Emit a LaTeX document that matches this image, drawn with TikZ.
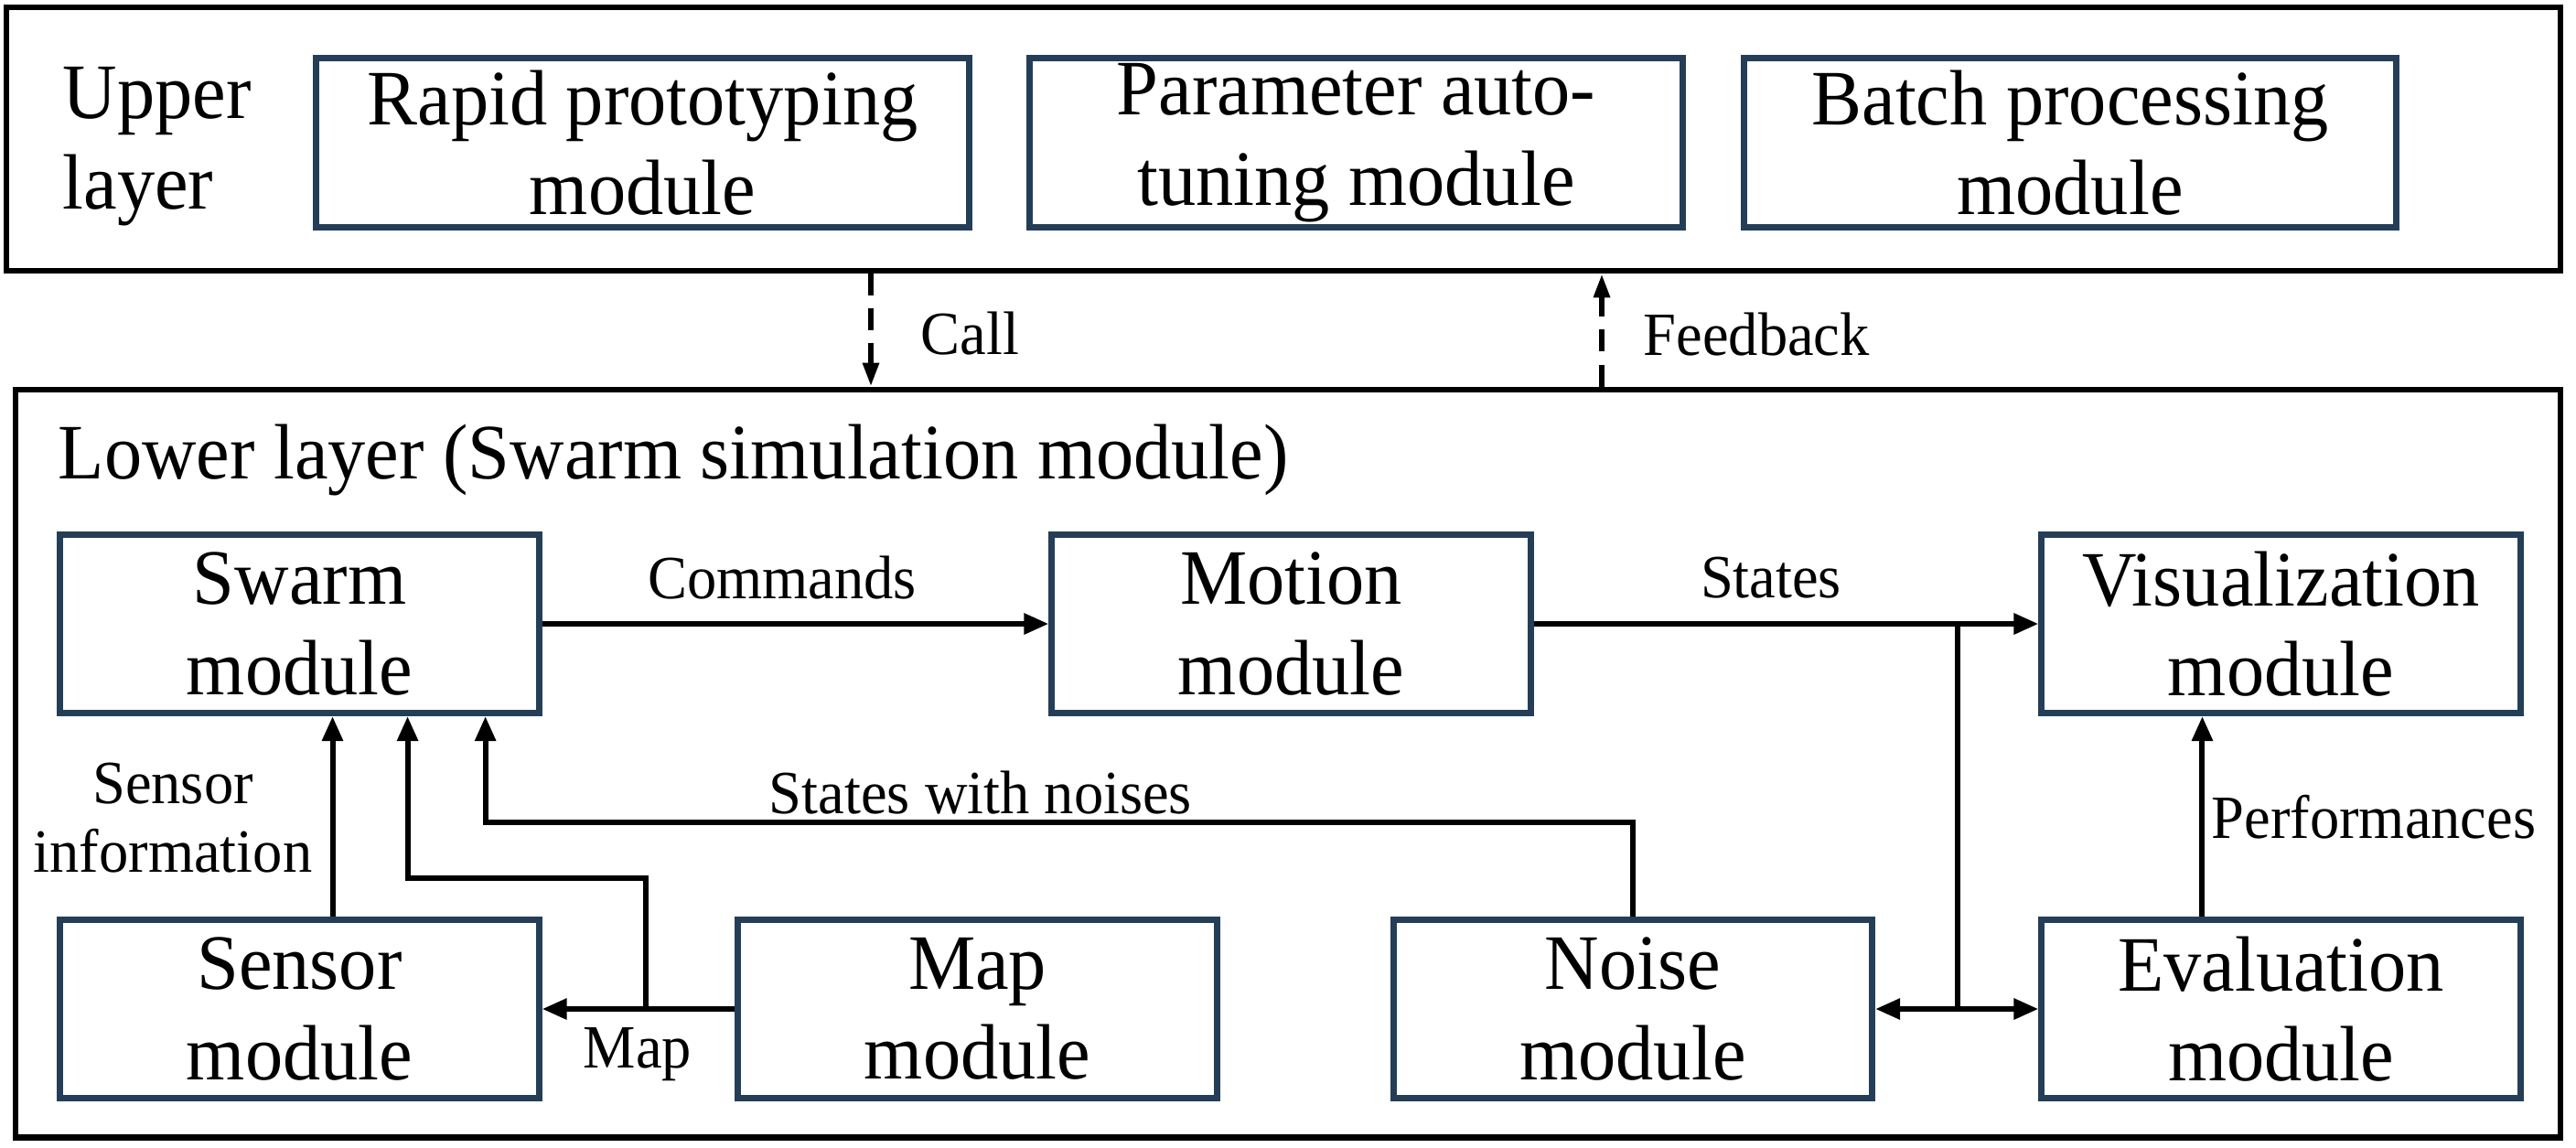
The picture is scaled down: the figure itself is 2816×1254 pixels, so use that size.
\documentclass[tikz,border=0pt]{standalone}
\usepackage{fontspec}
\setmainfont{Liberation Serif}[FakeStretch=0.96]
\usetikzlibrary{arrows.meta}
\definecolor{boxblue}{RGB}{37,62,87}

\begin{document}
\begin{tikzpicture}[x=0.01cm,y=-0.01cm,font=\fontsize{24.4}{28}\selectfont,
  layerbox/.style={draw,line width=0.065cm,inner sep=0pt},
  modbox/.style={draw=boxblue,line width=0.07cm,align=center,inner sep=0pt,minimum width=5.23cm,minimum height=1.95cm},
  upbox/.style={modbox,minimum width=7.13cm,minimum height=1.85cm},
  lbl/.style={font=\fontsize{19.1}{21.5}\selectfont,align=center,inner sep=0pt},
  wire/.style={line width=0.06cm},
  flow/.style={wire,-{Triangle[length=0.27cm,width=0.22cm]}},
  call/.style={wire,dash pattern=on 0.24cm off 0.14cm,-{Triangle[length=0.26cm,width=0.17cm]}}]
  \useasboundingbox (0,0) rectangle (2816,1254);

  \node[layerbox,minimum width=27.9cm,minimum height=2.88cm] (upper) at (1403,152) {};
  \node[layerbox,minimum width=27.8cm,minimum height=8.17cm] (lower) at (1408,834.5) {};

  \node[anchor=west,align=left,inner sep=0pt] (uptxt) at (68,160) {Upper\\layer};
  \foreach \n/\x/\t in {rapid/702.5/{Rapid prototyping\\module},tuning/1482.5/{Parameter auto-\\tuning module},batch/2263/{Batch processing\\module}}
    \node[upbox] (\n) at (\x,156) {\t};

  \node[anchor=west,inner sep=0pt] (lowtxt) at (63,503) {Lower layer (Swarm simulation module)};
  \foreach \n/\x/\y/\t in {swarm/327.5/682/Swarm,motion/1411.5/682/Motion,vis/2493.5/682/Visualization,sensor/327.5/1103/Sensor,map/1068.5/1103/Map,noise/1785/1103/Noise,eval/2493.5/1103/Evaluation}
    \node[modbox] (\n) at (\x,\y) {\t\\module};

  \coordinate (callx) at (952,0);
  \coordinate (fbx) at (1751,0);
  \draw[call] (callx |- upper.south) -- (callx |- lower.north);
  \draw[call] (fbx |- lower.north) -- (fbx |- upper.south);
  \node[lbl,anchor=west] (calllbl) at (1006,365) {Call};
  \node[lbl,anchor=west] (fblbl) at (1796,366) {Feedback};

  \draw[flow] (swarm) -- (motion);
  \draw[flow] (motion) -- (vis);
  \coordinate (jn) at (2140,682);
  \draw[wire] (jn) -- (jn |- noise.east);
  \draw[flow,{Triangle[length=0.27cm,width=0.22cm]}-{Triangle[length=0.27cm,width=0.22cm]}] (noise) -- (eval);
  \draw[flow] ([xshift=0.36cm]sensor.north) -- ([xshift=0.36cm]swarm.south);
  \draw[flow] (map) -- (sensor);
  \draw[flow] ([xshift=-0.97cm]map.west) -- ++(0,-143) -| ([xshift=1.18cm]swarm.south);
  \draw[flow] (noise.north) -- ++(0,-103) -| ([xshift=2.03cm]swarm.south);
  \draw[flow] ([xshift=-0.86cm]eval.north) -- ([xshift=-0.86cm]vis.south);

  \node[lbl] (cmdlbl) at (855,632) {Commands};
  \node[lbl] (stlbl) at (1936,632) {States};
  \node[lbl] (snlbl) at (1072,867) {States with noises};
  \node[lbl] (silbl) at (189,894) {Sensor\\information};
  \node[lbl] (maplbl) at (697,1153) {Map};
  \node[lbl] (perflbl) at (2595,893) {Performances};
\end{tikzpicture}
\end{document}
